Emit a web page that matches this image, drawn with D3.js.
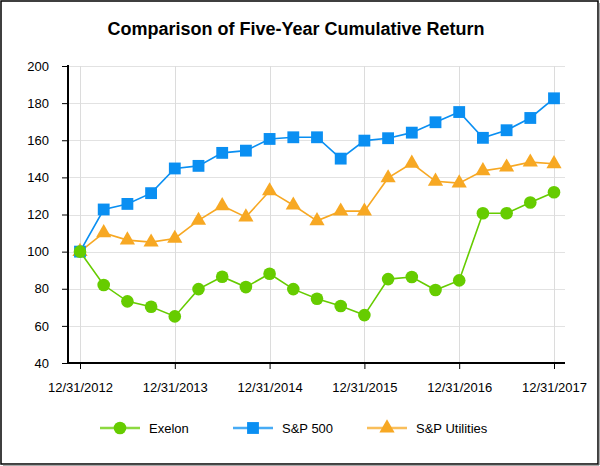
<!DOCTYPE html>
<html>
<head>
<meta charset="utf-8">
<script src="https://cdn.jsdelivr.net/npm/d3@7"></script>
<style>
  html, body { margin: 0; padding: 0; background: #fff; }
  svg { display: block; font-family: "Liberation Sans", Arial, sans-serif; }
</style>
</head>
<body>
<svg id="chart" width="600" height="466"></svg>
<script>
// ---- data ----
const quarters = d3.range(21); // quarterly points, 12/31/2012 .. 12/31/2017
const yearTickIndex = [0, 4, 8, 12, 16, 20];
const yearTickLabels = ["12/31/2012", "12/31/2013", "12/31/2014", "12/31/2015", "12/31/2016", "12/31/2017"];
const yTicks = [40, 60, 80, 100, 120, 140, 160, 180, 200];

const exelon = [100, 82.0, 73.2, 70.3, 65.1, 79.8, 86.5, 80.9, 88.1, 79.8, 74.6,
                70.7, 65.8, 85.2, 86.3, 79.3, 84.5, 120.7, 120.7, 126.5, 132.0];
const sp500 = [100, 122.7, 125.7, 131.5, 144.8, 146.2, 153.2, 154.4, 160.7, 161.6, 161.6,
               150.1, 159.8, 161.1, 164.1, 169.7, 175.2, 161.3, 165.4, 172.0, 182.6];
const spUtilities = [100, 110.1, 106.2, 105.1, 107.1, 116.8, 124.7, 118.6, 132.7, 125.0, 116.6,
                     121.8, 121.8, 139.7, 147.6, 137.9, 136.9, 143.5, 145.5, 148.2, 147.3];

const seriesNames = ["Exelon", "S&P 500", "S&P Utilities"];
const seriesValues = [exelon, sp500, spUtilities];
const seriesColors = ["#66cc00", "#0a8ff2", "#f7a823"];
const seriesSymbols = [d3.symbolCircle, d3.symbolSquare, d3.symbolTriangle];
const symbolSizes = [125, 140, 100];

// ---- layout ----
const svg = d3.select("#chart");
const plot = { left: 68, right: 565, top: 66, bottom: 363 };

const x = d3.scaleLinear().domain([0, 20]).range([80, 554]);
const y = d3.scaleLinear().domain([40, 200]).range([plot.bottom, plot.top]);

// frame
svg.append("rect")
  .attr("x", 1).attr("y", 1).attr("width", 597).attr("height", 463)
  .attr("fill", "#fff").attr("stroke", "#000").attr("stroke-width", 1.5);
svg.append("line").attr("x1", 599).attr("x2", 599).attr("y1", 3).attr("y2", 465)
  .attr("stroke", "#555").attr("stroke-width", 1);
svg.append("line").attr("x1", 3).attr("x2", 599).attr("y1", 465).attr("y2", 465)
  .attr("stroke", "#555").attr("stroke-width", 1);

// title
svg.append("text")
  .attr("x", 296).attr("y", 35)
  .attr("text-anchor", "middle")
  .attr("font-size", 18).attr("font-weight", "bold")
  .attr("fill", "#000")
  .text("Comparison of Five-Year Cumulative Return");

// grid
const grid = svg.append("g");
grid.selectAll(".hg").data(yTicks.filter(d => d > 40)).join("line")
  .attr("x1", plot.left).attr("x2", plot.right)
  .attr("y1", d => Math.round(y(d)) + 0.5).attr("y2", d => Math.round(y(d)) + 0.5)
  .attr("stroke", "#e2e2e2").attr("stroke-width", 1);
grid.selectAll(".vg").data(yearTickIndex).join("line")
  .attr("x1", d => Math.round(x(d)) + 0.5).attr("x2", d => Math.round(x(d)) + 0.5)
  .attr("y1", plot.top).attr("y2", plot.bottom)
  .attr("stroke", "#dcdcdc").attr("stroke-width", 1);

// y axis
const yAxis = svg.append("g")
  .attr("transform", `translate(${plot.left},0)`)
  .call(d3.axisLeft(y).tickValues(yTicks).tickSize(6).tickPadding(13));
yAxis.select(".domain").remove();
yAxis.selectAll("text").attr("font-size", 13).attr("fill", "#000")
  .style("font-family", "'Liberation Sans', Arial, sans-serif");
yAxis.selectAll(".tick line").attr("stroke", "#000");

// x axis
const xAxis = svg.append("g")
  .attr("transform", `translate(0,${plot.bottom})`)
  .call(d3.axisBottom(x).tickValues(yearTickIndex)
    .tickFormat((d, i) => yearTickLabels[i]).tickSize(6).tickPadding(14));
xAxis.select(".domain").remove();
xAxis.selectAll("text").attr("font-size", 13).attr("fill", "#000")
  .style("font-family", "'Liberation Sans', Arial, sans-serif");
xAxis.selectAll(".tick line").attr("stroke", "#000");

// axis lines
svg.append("line").attr("x1", plot.left).attr("x2", plot.left)
  .attr("y1", plot.top - 1).attr("y2", plot.bottom + 1)
  .attr("stroke", "#000").attr("stroke-width", 2);
svg.append("line").attr("x1", plot.left - 1).attr("x2", plot.right)
  .attr("y1", plot.bottom).attr("y2", plot.bottom)
  .attr("stroke", "#000").attr("stroke-width", 2);

// series (draw utilities, then S&P 500, then Exelon on top)
const line = d3.line().x((d, i) => x(quarters[i])).y(d => y(d));
const order = [2, 1, 0];
order.forEach(k => {
  const g = svg.append("g");
  g.append("path")
    .datum(seriesValues[k])
    .attr("d", line)
    .attr("fill", "none")
    .attr("stroke", seriesColors[k])
    .attr("stroke-width", 1.6);
  const sym = d3.symbol().type(seriesSymbols[k]).size(symbolSizes[k]);
  g.selectAll("path.m").data(seriesValues[k]).join("path")
    .attr("class", "m")
    .attr("d", sym)
    .attr("transform", (d, i) => `translate(${x(quarters[i])},${y(d)})`)
    .attr("fill", seriesColors[k]);
});

// legend
const legendX = [100, 233, 367];
const legendY = 428;
seriesNames.forEach((name, k) => {
  const g = svg.append("g").attr("transform", `translate(${legendX[k]},${legendY})`);
  g.append("line").attr("x1", 0).attr("x2", 40).attr("y1", 0).attr("y2", 0)
    .attr("stroke", seriesColors[k]).attr("stroke-width", 2.5).attr("stroke-opacity", 0.75);
  g.append("path").attr("d", d3.symbol().type(seriesSymbols[k]).size(symbolSizes[k])())
    .attr("transform", "translate(20,0)").attr("fill", seriesColors[k]);
  g.append("text").attr("x", 49).attr("y", 5)
    .attr("font-size", 13).attr("fill", "#000").text(name);
});
</script>
</body>
</html>
